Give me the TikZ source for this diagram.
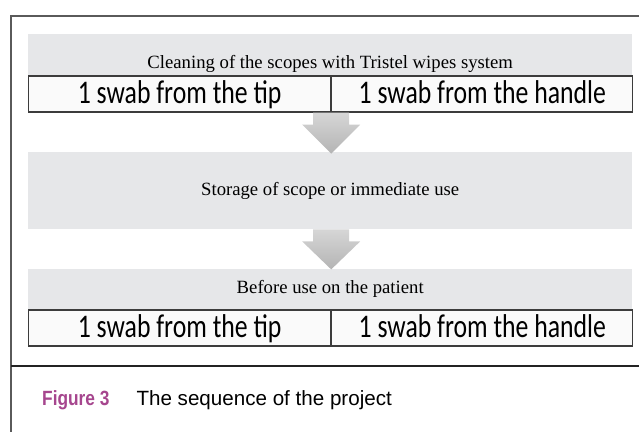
\documentclass[tikz,border=0pt]{standalone}
\usepackage{fontspec}
\usetikzlibrary{positioning}
\newfontfamily\swabfont[FakeStretch=0.78]{Carlito}
\newfontfamily\stepfont{Liberation Serif}
\newfontfamily\capfont{Liberation Sans}
\newfontfamily\capboldfont[FakeStretch=0.84]{Liberation Sans}
\definecolor{panelgray}{RGB}{230,231,233}
\definecolor{cellfill}{RGB}{250,250,250}
\definecolor{cellline}{RGB}{60,60,60}
\definecolor{framegray}{RGB}{90,90,90}
\definecolor{rulegray}{RGB}{35,35,35}
\definecolor{arrowtop}{RGB}{214,214,214}
\definecolor{arrowbot}{RGB}{180,180,180}
\definecolor{figmagenta}{RGB}{166,70,142}
\begin{document}
\begin{tikzpicture}[x=1pt, y=-1pt,
    panel/.style={rectangle, fill=panelgray, anchor=north west, minimum width=604, inner sep=0, font=\stepfont\fontsize{18.7}{22}\selectfont},
    cell/.style={rectangle, draw=cellline, fill=cellfill, line width=1.2pt, minimum height=36, inner sep=0, text height=23, text depth=5, font=\swabfont\fontsize{33}{36}\selectfont},
    arrowfill/.style={top color=arrowtop, bottom color=arrowbot},
    frameline/.style={draw=framegray, line width=1.4pt}]
        \useasboundingbox (0,0) rectangle (639,432);
        \draw[frameline] (639,16) -- (11,16) -- (11,432);
        \draw[draw=rulegray, line width=1.5pt] (11,366) -- (639,366);
        \node[panel, minimum height=41, text height=30, text depth=2] (1) at (28,34) {Cleaning of the scopes with Tristel wipes system};
        \node[cell, minimum width=302, below=0pt of 1.south west, anchor=north west] (2) {1 swab from the tip};
        \node[cell, minimum width=301, right=0pt of 2] (3) {1 swab from the handle};
        \node[panel, minimum height=77] (4) at (28,152) {Storage of scope or immediate use};
        \node[panel, minimum height=40] (5) at (28,269) {Before use on the patient};
        \node[cell, minimum width=302, below=0pt of 5.south west, anchor=north west] (6) {1 swab from the tip};
        \node[cell, minimum width=301, right=0pt of 6] (7) {1 swab from the handle};
        \coordinate (a1) at (2.south east);
        \coordinate (a2) at (4.south -| 2.south east);
        \shade[arrowfill, shift={(a1)}] (-18,0) -- (18,0) -- (18,12) -- (29,12) -- (0,41) -- (-29,12) -- (-18,12) -- cycle;
        \shade[arrowfill, shift={(a2)}] (-18,0) -- (18,0) -- (18,12) -- (29,12) -- (0,40) -- (-29,12) -- (-18,12) -- cycle;
        \node[anchor=base west, inner sep=0, font=\capfont\fontsize{20.6}{24}\selectfont] (8) at (42,405) {{\capboldfont\bfseries\color{figmagenta}Figure 3}\hspace{27pt}The sequence of the project};
    \end{tikzpicture}
\end{document}
